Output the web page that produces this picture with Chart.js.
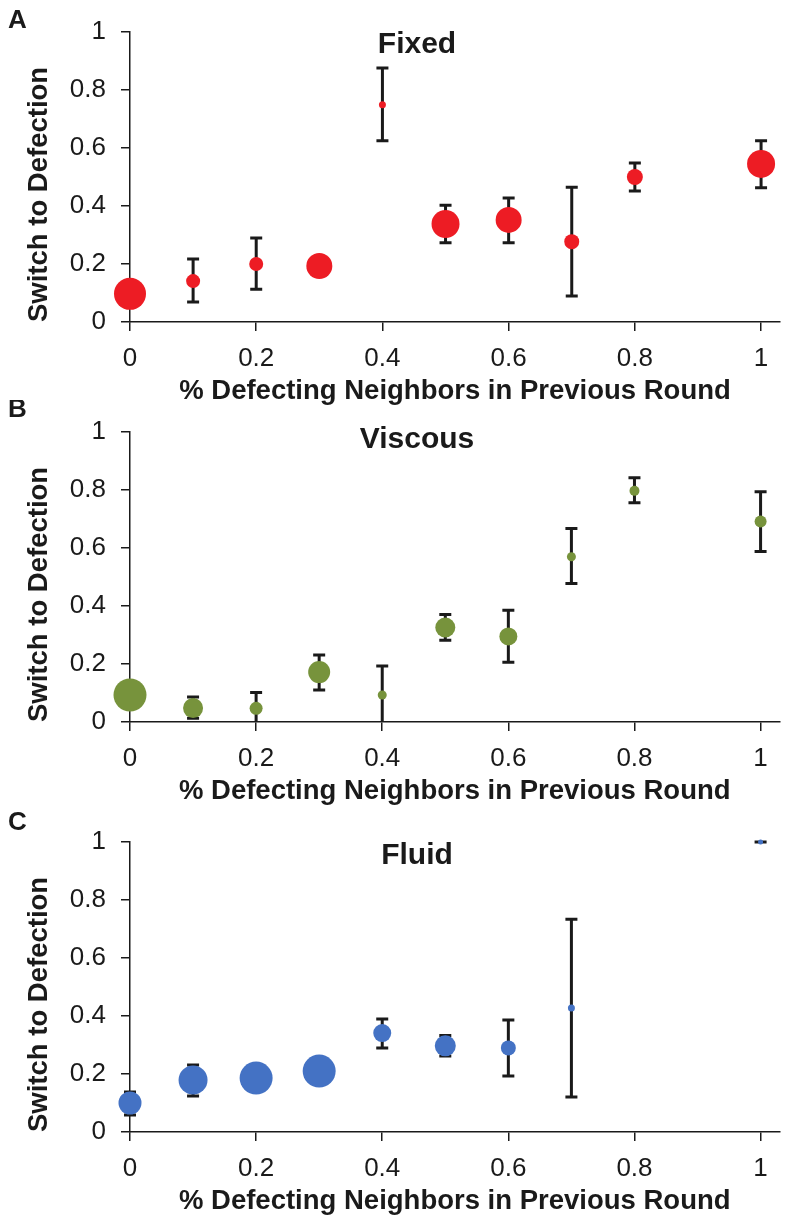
<!DOCTYPE html>
<html>
<head>
<meta charset="utf-8">
<script src="https://cdn.jsdelivr.net/npm/chart.js@4.4.1/dist/chart.umd.min.js"></script>
<style>
  body { margin: 0; background: #fff; overflow: hidden; }
  .panel { position: absolute; left: 0; width: 789px; height: 410px; overflow: hidden; }
</style>
</head>
<body>
<!-- le canvas dépasse de quelques px : Chart.js réserve le rayon du plus gros point à droite -->
<div class="panel" style="top:0px"><canvas id="chartFixed" width="796" height="410"></canvas></div>
<div class="panel" style="top:400px"><canvas id="chartViscous" width="796" height="410"></canvas></div>
<div class="panel" style="top:810px"><canvas id="chartFluid" width="796" height="410"></canvas></div>
<script>
// ticks des axes
const xTicks = [0, 0.2, 0.4, 0.6, 0.8, 1];
const yTicks = [0, 0.2, 0.4, 0.6, 0.8, 1];

// Fixed
const fixedX = [0, 0.1, 0.2, 0.3, 0.4, 0.5, 0.6, 0.7, 0.8, 1];
const fixedMean = [0.097, 0.141, 0.200, 0.193, 0.749, 0.338, 0.352, 0.277, 0.500, 0.545];
const fixedHigh = [0.120, 0.217, 0.290, 0.225, 0.876, 0.403, 0.428, 0.465, 0.548, 0.625];
const fixedLow  = [0.075, 0.069, 0.113, 0.160, 0.625, 0.273, 0.273, 0.090, 0.452, 0.463];
const fixedSize = [16, 7, 7, 13, 3.5, 14, 13, 7.5, 8, 14];

// Viscous
const viscousX = [0, 0.1, 0.2, 0.3, 0.4, 0.5, 0.6, 0.7, 0.8, 1];
const viscousMean = [0.093, 0.048, 0.047, 0.172, 0.093, 0.326, 0.295, 0.570, 0.797, 0.691];
const viscousHigh = [0.120, 0.086, 0.102, 0.231, 0.193, 0.371, 0.385, 0.667, 0.842, 0.794];
const viscousLow  = [0.065, 0.013, -0.010, 0.110, -0.010, 0.282, 0.206, 0.478, 0.756, 0.588];
const viscousSize = [16.5, 10, 6.5, 11, 4.5, 10, 9, 4.5, 5, 6];

// Fluid
const fluidX = [0, 0.1, 0.2, 0.3, 0.4, 0.5, 0.6, 0.7, 1];
const fluidMean = [0.100, 0.179, 0.186, 0.210, 0.341, 0.297, 0.290, 0.428, 1.000];
const fluidHigh = [0.138, 0.231, 0.220, 0.245, 0.390, 0.333, 0.386, 0.734, 1.000];
const fluidLow  = [0.059, 0.124, 0.150, 0.175, 0.290, 0.262, 0.193, 0.121, 1.000];
const fluidSize = [11.5, 14.5, 16.5, 16.5, 9, 10.5, 7.5, 3.5, 2.5];

const FONT = "'Liberation Sans', Arial, sans-serif";
const INK = '#1a1a1a';

// barres d'erreur, dessinées sous les points
const errorBars = {
  id: 'errorBars',
  beforeDatasetsDraw(chart) {
    const { ctx, chartArea } = chart;
    const xs = chart.scales.x, ys = chart.scales.y;
    ctx.save();
    ctx.beginPath();
    ctx.rect(0, 0, chart.width, chartArea.bottom);
    ctx.clip();
    ctx.strokeStyle = INK;
    ctx.lineWidth = 3;
    chart.data.datasets.forEach(ds => {
      ds.data.forEach((p, i) => {
        const px = xs.getPixelForValue(p.x);
        const top = ys.getPixelForValue(ds.errHigh[i]);
        const bot = ys.getPixelForValue(ds.errLow[i]);
        ctx.beginPath();
        ctx.moveTo(px, top); ctx.lineTo(px, bot);
        ctx.moveTo(px - 6, top); ctx.lineTo(px + 6, top);
        ctx.moveTo(px - 6, bot); ctx.lineTo(px + 6, bot);
        ctx.stroke();
      });
    });
    ctx.restore();
  }
};

// titre du panneau et lettre
const panelText = {
  id: 'panelText',
  afterDraw(chart, args, opts) {
    const { ctx, chartArea } = chart;
    ctx.save();
    ctx.fillStyle = INK;
    ctx.textBaseline = 'alphabetic';
    ctx.font = 'bold 30px ' + FONT;
    ctx.textAlign = 'center';
    ctx.fillText(opts.title, 417, chartArea.top + opts.titleDy);
    ctx.font = 'bold 26px ' + FONT;
    ctx.textAlign = 'left';
    ctx.fillText(opts.letter, 8, opts.letterY);
    ctx.restore();
  }
};

function creerPanneau(id, letter, letterY, title, titleDy, xs, mean, low, high, size, color) {
  const ctx = document.getElementById(id).getContext('2d');
  new Chart(ctx, {
    type: 'scatter',
    data: {
      datasets: [{
        data: xs.map((x, i) => ({ x: x, y: mean[i] })),
        errLow: low,
        errHigh: high,
        pointRadius: size,
        pointHoverRadius: size,
        pointBackgroundColor: color,
        pointBorderWidth: 0,
        clip: false
      }]
    },
    options: {
      responsive: false,
      animation: false,
      events: [],
      layout: { padding: { top: 32, right: 0, bottom: 0, left: 0 } },
      plugins: {
        legend: { display: false },
        tooltip: { enabled: false },
        panelText: { title: title, titleDy: titleDy, letter: letter, letterY: letterY }
      },
      scales: {
        x: {
          type: 'linear',
          min: 0,
          max: 1.03,
          afterBuildTicks: s => { s.ticks = xTicks.map(v => ({ value: v })); },
          afterFit: s => { s.height = 88; s.paddingRight = 0; s.paddingLeft = 0; },
          grid: { drawOnChartArea: false, drawTicks: true, tickLength: 9, color: INK, lineWidth: 1.5 },
          border: { display: true, color: INK, width: 1.5 },
          ticks: {
            font: { family: FONT, size: 26 },
            color: INK,
            padding: 12,
            maxRotation: 0,
            autoSkip: false,
            callback: v => String(v)
          },
          title: {
            display: true,
            text: '% Defecting Neighbors in Previous Round',
            font: { family: FONT, size: 27.5, weight: 'bold' },
            color: INK,
            padding: { top: 0, bottom: 2 }
          }
        },
        y: {
          min: 0,
          max: 1,
          afterBuildTicks: s => { s.ticks = yTicks.map(v => ({ value: v })); },
          afterFit: s => { s.width = 130; },
          grid: { drawOnChartArea: false, drawTicks: true, tickLength: 9, color: INK, lineWidth: 1.5 },
          border: { display: true, color: INK, width: 1.5 },
          ticks: {
            font: { family: FONT, size: 26 },
            color: INK,
            padding: 15,
            callback: v => String(v)
          },
          title: {
            display: true,
            text: 'Switch to Defection',
            align: 'start',
            font: { family: FONT, size: 27.5, weight: 'bold' },
            color: INK,
            padding: { top: 23, bottom: 0 }
          }
        }
      }
    },
    plugins: [errorBars, panelText]
  });
}

creerPanneau('chartFixed', 'A', 28, 'Fixed', 21, fixedX, fixedMean, fixedLow, fixedHigh, fixedSize, '#ed1c24');
creerPanneau('chartViscous', 'B', 17, 'Viscous', 16, viscousX, viscousMean, viscousLow, viscousHigh, viscousSize, '#77933c');
creerPanneau('chartFluid', 'C', 20, 'Fluid', 22, fluidX, fluidMean, fluidLow, fluidHigh, fluidSize, '#4472c4');
</script>
</body>
</html>
